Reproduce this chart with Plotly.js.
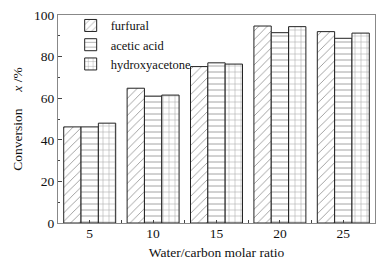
<!DOCTYPE html>
<html>
<head>
<meta charset="utf-8">
<script src="https://cdn.plot.ly/plotly-3.0.1.min.js"></script>
<style>html,body{margin:0;padding:0;background:#fff;}#chart{width:386px;height:264px;}</style>
</head>
<body>
<div id="chart"></div>
<script>
const ratios = [5, 10, 15, 20, 25];
const furfural = [46.2, 64.8, 75.2, 94.7, 92.0];
const aceticAcid = [46.2, 61.0, 77.0, 91.5, 88.8];
const hydroxyacetone = [48.0, 61.5, 76.4, 94.4, 91.3];
const seriesNames = ['furfural', 'acetic acid', 'hydroxyacetone'];
const yTicks = [0, 20, 40, 60, 80, 100];

const shapes = ['/', '-', '+'];
const data = [furfural, aceticAcid, hydroxyacetone].map((vals, i) => ({
  type: 'bar',
  x: ratios,
  y: vals,
  name: seriesNames[i],
  marker: {
    color: '#ffffff',
    line: {color: '#222', width: 1},
    pattern: {shape: shapes[i], fillmode: 'overlay', bgcolor: '#ffffff', fgcolor: '#333', size: 6, solidity: 0.15}
  }
}));

const font = {family: 'Liberation Serif, Times New Roman, serif', size: 13.5, color: '#111'};
const legendFont = {family: 'Liberation Serif, Times New Roman, serif', size: 12.5, color: '#111'};
const layout = {
  width: 386, height: 264,
  margin: {l: 58, r: 11, t: 15, b: 41},
  paper_bgcolor: '#fff', plot_bgcolor: '#fff',
  font: font,
  barmode: 'group', bargap: 0.18, bargroupgap: 0,
  showlegend: true,
  legend: {x: 0.04, y: 1.02, xanchor: 'left', yanchor: 'top', bgcolor: 'rgba(0,0,0,0)', font: legendFont, tracegroupgap: 0},
  xaxis: {
    range: [2.5, 27.5], tickvals: ratios, ticktext: ratios.map(String),
    ticks: 'inside', ticklen: 3, tickcolor: '#444', ticklabelstandoff: -2,
    minor: {tick0: 2.5, dtick: 5, ticks: 'inside', ticklen: 3, tickcolor: '#444'},
    showline: true, linecolor: '#888', linewidth: 1, mirror: true,
    showgrid: false, zeroline: false,
    title: {text: 'Water/carbon molar ratio', font: font, standoff: 7}
  },
  yaxis: {
    range: [0, 100], tickvals: yTicks,
    ticks: 'inside', ticklen: 4, tickcolor: '#444',
    minor: {dtick: 10, ticks: 'inside', ticklen: 2, tickcolor: '#444'},
    showline: true, linecolor: '#888', linewidth: 1, mirror: true,
    showgrid: false, zeroline: false,
    title: {text: 'Conversion&nbsp;&nbsp;&nbsp;&nbsp;&nbsp;<i>x</i> /%', font: font, standoff: 8}
  }
};
Plotly.newPlot('chart', data, layout, {displayModeBar: false, staticPlot: true});
</script>
</body>
</html>
